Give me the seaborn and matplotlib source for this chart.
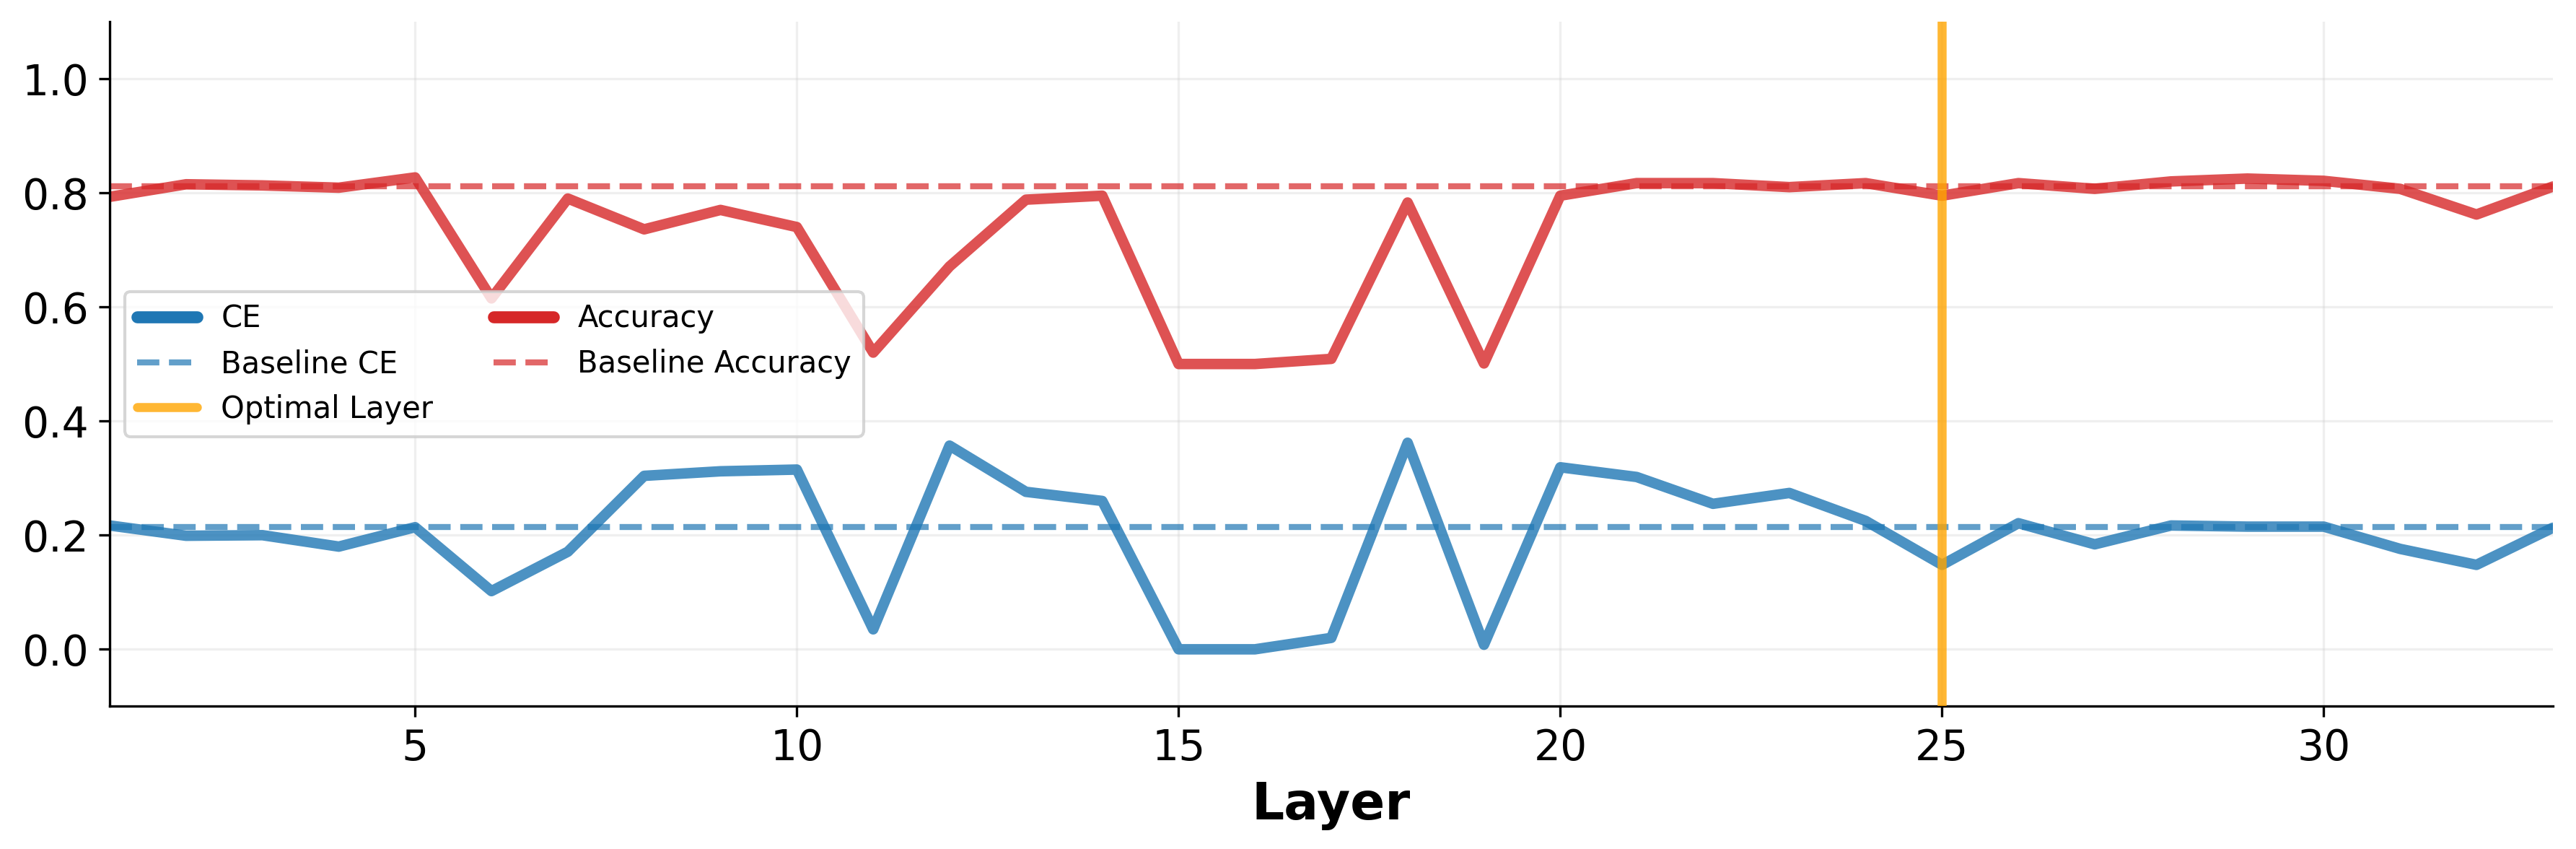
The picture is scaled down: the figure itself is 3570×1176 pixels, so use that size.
import numpy as np
import pandas as pd
import matplotlib.pyplot as plt
import seaborn as sns
from matplotlib.lines import Line2D

# values
layers = list(range(1, 34))
ce = [0.217, 0.199, 0.200, 0.180, 0.214, 0.102, 0.171, 0.304, 0.312, 0.315,
      0.035, 0.357, 0.276, 0.260, 0.000, 0.000, 0.020, 0.362, 0.008, 0.319,
      0.302, 0.255, 0.274, 0.225, 0.148, 0.221, 0.184, 0.217, 0.215, 0.215,
      0.176, 0.148, 0.213]
accuracy = [0.793, 0.815, 0.813, 0.809, 0.827, 0.615, 0.790, 0.736, 0.770, 0.740,
            0.520, 0.671, 0.788, 0.795, 0.500, 0.500, 0.509, 0.783, 0.501, 0.795,
            0.817, 0.817, 0.810, 0.817, 0.795, 0.817, 0.807, 0.820, 0.825, 0.821,
            0.807, 0.762, 0.811]
baseline_ce = 0.214
baseline_acc = 0.811
optimal_layer = 25

df = pd.DataFrame({'Layer': layers, 'CE': ce, 'Accuracy': accuracy})

sns.set_style('ticks')
plt.rcParams.update({'text.color': 'black', 'axes.labelcolor': 'black',
                     'xtick.color': 'black', 'ytick.color': 'black',
                     'axes.edgecolor': 'black'})

blue = '#1f77b4'
red = '#d62728'
orange = '#FFA500'

fig, ax = plt.subplots(figsize=(11.9, 3.92), dpi=300)

sns.lineplot(data=df, x='Layer', y='CE', ax=ax, color=blue, lw=3.5, alpha=0.8)
ax.axhline(baseline_ce, color=blue, ls='--', lw=2, alpha=0.7)
sns.lineplot(data=df, x='Layer', y='Accuracy', ax=ax, color=red, lw=3.5, alpha=0.8)
ax.axhline(baseline_acc, color=red, ls='--', lw=2, alpha=0.7)
ax.axvline(optimal_layer, color=orange, lw=3, alpha=0.8, zorder=4)

ax.grid(True, alpha=0.3)
ax.set_xlim(1, 33)
ax.set_ylim(-0.1, 1.1)
ax.set_xticks([5, 10, 15, 20, 25, 30])
ax.set_yticks([0.0, 0.2, 0.4, 0.6, 0.8, 1.0])
ax.tick_params(labelsize=14)
ax.set_ylabel('')
ax.set_xlabel('Layer', fontsize=17, fontweight='bold')
sns.despine(ax=ax)

legend_elements = [Line2D([0], [0], color=blue, lw=4, label='CE'),
                   Line2D([0], [0], color=blue, lw=2, ls='--', alpha=0.7, label='Baseline CE'),
                   Line2D([0], [0], color=orange, lw=3, alpha=0.8, label='Optimal Layer'),
                   Line2D([0], [0], color=red, lw=4, label='Accuracy'),
                   Line2D([0], [0], color=red, lw=2, ls='--', alpha=0.7, label='Baseline Accuracy')]
ax.legend(handles=legend_elements, loc='center left', ncol=2, fontsize=10)

plt.subplots_adjust(left=0.0426, right=0.991, top=0.9745, bottom=0.168)
plt.savefig('out.png', dpi=300)
